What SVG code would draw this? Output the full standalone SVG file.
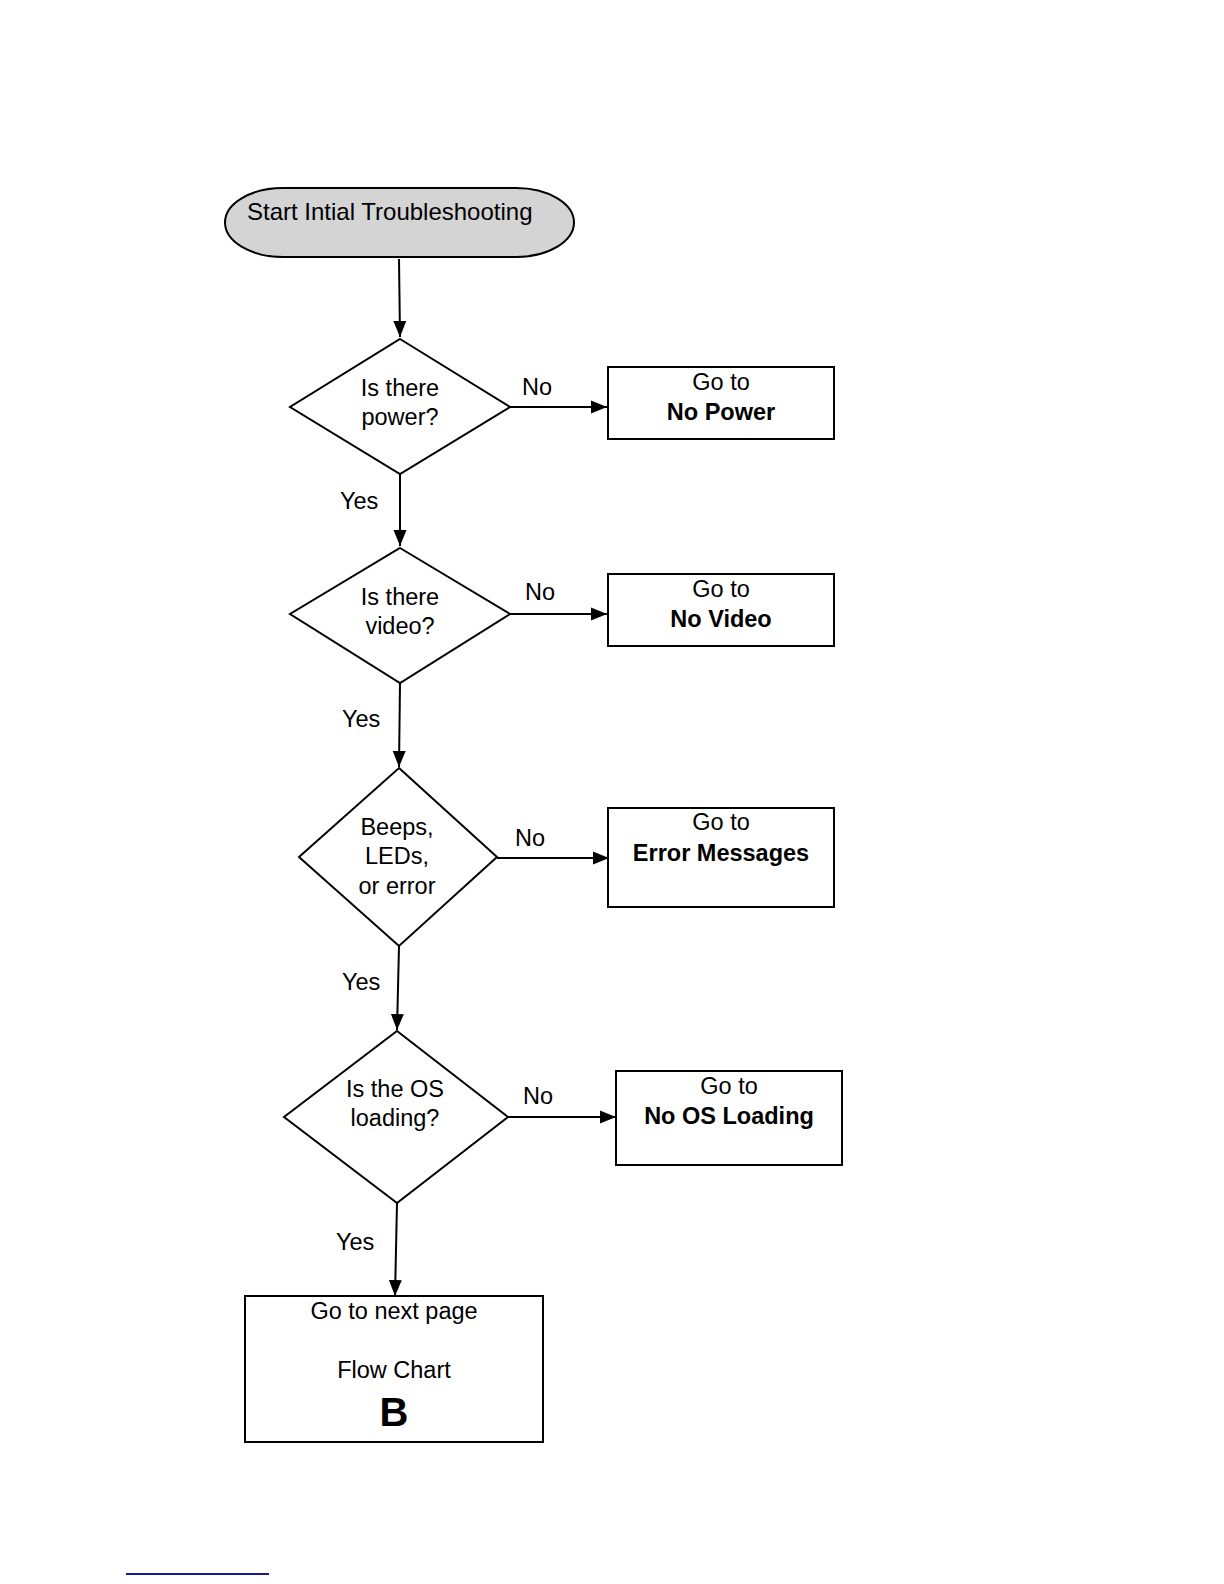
<svg xmlns="http://www.w3.org/2000/svg" width="1224" height="1584" viewBox="0 0 1224 1584">
<style>
.shape{fill:#fff;stroke:#000;stroke-width:2}
.term{fill:#d4d4d4;stroke:#000;stroke-width:2}
.t{font-family:"Liberation Sans",Arial,sans-serif;font-size:23.5px;fill:#000;text-anchor:middle}
.b{font-weight:bold}
.lbl{font-family:"Liberation Sans",Arial,sans-serif;font-size:23.5px;fill:#000}
.conn{stroke:#000;stroke-width:2;fill:none;marker-end:url(#ah)}
</style>
<defs>
<marker id="ah" markerUnits="userSpaceOnUse" markerWidth="18" markerHeight="14" refX="16" refY="7" orient="auto">
<path d="M0,0.5 L16,7 L0,13.5 Z" fill="#000"/>
</marker>
</defs>
<rect width="1224" height="1584" fill="#fff"/>

<g id="start">
<rect class="term" x="225" y="188" width="349" height="69" rx="58" ry="34.5"/>
<text class="lbl" x="247" y="220" style="font-size:24px">Start Intial Troubleshooting</text>
</g>

<g id="d-power">
<polygon class="shape" points="400,339 510,407 400,474 290,407"/>
<text class="t" x="400" y="396">Is there</text>
<text class="t" x="400" y="425">power?</text>
</g>
<g id="b-nopower">
<rect class="shape" x="608" y="367" width="226" height="72"/>
<text class="t" x="721" y="390">Go to</text>
<text class="t b" x="721" y="420">No Power</text>
</g>

<g id="d-video">
<polygon class="shape" points="400,548 510,614 400,683 290,614"/>
<text class="t" x="400" y="605">Is there</text>
<text class="t" x="400" y="634">video?</text>
</g>
<g id="b-novideo">
<rect class="shape" x="608" y="574" width="226" height="72"/>
<text class="t" x="721" y="597">Go to</text>
<text class="t b" x="721" y="627">No Video</text>
</g>

<g id="d-beeps">
<polygon class="shape" points="399,768 497,857 399,946 299,857"/>
<text class="t" x="397" y="835">Beeps,</text>
<text class="t" x="397" y="864">LEDs,</text>
<text class="t" x="397" y="894">or error</text>
</g>
<g id="b-error">
<rect class="shape" x="608" y="808" width="226" height="99"/>
<text class="t" x="721" y="830">Go to</text>
<text class="t b" x="721" y="861">Error Messages</text>
</g>

<g id="d-os">
<polygon class="shape" points="397,1031 508,1117 397,1203 284,1117"/>
<text class="t" x="395" y="1097">Is the OS</text>
<text class="t" x="395" y="1126">loading?</text>
</g>
<g id="b-noos">
<rect class="shape" x="616" y="1071" width="226" height="94"/>
<text class="t" x="729" y="1094">Go to</text>
<text class="t b" x="729" y="1124">No OS Loading</text>
</g>

<g id="b-next">
<rect class="shape" x="245" y="1296" width="298" height="146"/>
<text class="t" x="394" y="1319">Go to next page</text>
<text class="t" x="394" y="1378">Flow Chart</text>
<text class="t b" x="394" y="1426" style="font-size:40px">B</text>
</g>

<g id="connectors">
<line class="conn" x1="399" y1="259" x2="400" y2="337"/>
<line class="conn" x1="510" y1="407" x2="607" y2="407"/>
<line class="conn" x1="400" y1="474" x2="400" y2="546"/>
<line class="conn" x1="510" y1="614" x2="607" y2="614"/>
<line class="conn" x1="400" y1="683" x2="399" y2="767"/>
<line class="conn" x1="497" y1="858" x2="609" y2="858"/>
<line class="conn" x1="399" y1="946" x2="397" y2="1030"/>
<line class="conn" x1="508" y1="1117" x2="616" y2="1117"/>
<line class="conn" x1="397" y1="1203" x2="395" y2="1296"/>
<text class="lbl" x="522" y="395">No</text>
<text class="lbl" x="340" y="509">Yes</text>
<text class="lbl" x="525" y="600">No</text>
<text class="lbl" x="342" y="727">Yes</text>
<text class="lbl" x="515" y="846">No</text>
<text class="lbl" x="342" y="990">Yes</text>
<text class="lbl" x="523" y="1104">No</text>
<text class="lbl" x="336" y="1250">Yes</text>
</g>

<line x1="126" y1="1574" x2="269" y2="1574" stroke="#1a1a8c" stroke-width="2"/>
</svg>
